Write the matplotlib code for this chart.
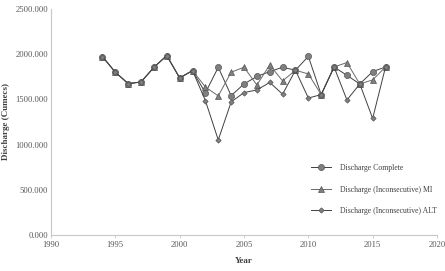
import numpy as np
import matplotlib
matplotlib.use("Agg")
import matplotlib.pyplot as plt

plt.rcParams['font.family'] = ['Liberation Serif', 'DejaVu Serif']

years = list(range(1994, 2017))
complete = [1972, 1800, 1674, 1692, 1855, 1984, 1737, 1818, 1571, 1855, 1541,
            1670, 1753, 1807, 1855, 1822, 1976, 1552, 1858, 1766, 1670, 1807, 1858]
mi = [1972, 1800, 1674, 1692, 1855, 1984, 1737, 1818, 1637, 1538, 1800,
      1855, 1659, 1880, 1704, 1822, 1781, 1552, 1858, 1907, 1670, 1715, 1858]
alt = [1972, 1800, 1674, 1692, 1855, 1984, 1737, 1818, 1486, 1051, 1471,
       1575, 1604, 1687, 1557, 1822, 1515, 1552, 1858, 1493, 1670, 1289, 1858]

fig = plt.figure(figsize=(4.45, 2.71), dpi=100)
ax = fig.add_axes([0.1146, 0.133, 0.8674, 0.834])

line_col = "#404040"
face = "#7f7f7f"
ax.plot(years, complete, "-o", color=line_col, lw=0.7, ms=4.4,
        mfc=face, mec="#555555", mew=0.5, label="Discharge Complete")
ax.plot(years, mi, "-^", color="#6a6a6a", lw=0.7, ms=4.4,
        mfc=face, mec="#555555", mew=0.5, label="Discharge (Inconsecutive) MI")
ax.plot(years, alt, "-D", color=line_col, lw=0.7, ms=2.7,
        mfc=face, mec="#555555", mew=0.5, label="Discharge (Inconsecutive) ALT")

ax.set_xlim(1990, 2020)
ax.set_ylim(0, 2500)
ax.set_xticks(range(1990, 2021, 5))
ax.set_yticks(np.arange(0, 2501, 500))
ax.set_yticklabels([f"{v:.3f}" for v in np.arange(0, 2501, 500)])

for s in ["top", "right"]:
    ax.spines[s].set_visible(False)
for s in ["left", "bottom"]:
    ax.spines[s].set_color("#c8c8c8")
    ax.spines[s].set_linewidth(0.8)
ax.tick_params(axis="both", labelsize=6.2, colors="#c8c8c8", labelcolor="#595959",
               length=2, width=0.6, pad=2)
ax.tick_params(axis="y", length=0)

ax.set_xlabel("Year", fontsize=6.5, fontweight="bold", color="#404040", labelpad=6)
ax.set_ylabel("Discharge (Cumecs)", fontsize=6.5, fontweight="bold", color="#404040",
              labelpad=4)

leg = ax.legend(loc="upper left", bbox_to_anchor=(0.655, 0.345), frameon=False,
                fontsize=5.6, labelspacing=1.75, handlelength=2.6, handletextpad=1.1)
for t in leg.get_texts():
    t.set_color("#404040")

fig.savefig("out.png", dpi=100)
